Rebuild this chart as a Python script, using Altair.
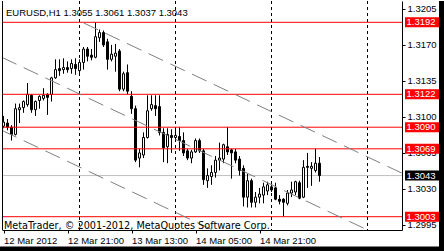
import altair as alt
import pandas as pd

symbol = "EURUSD"
timeframe = "H1"

opens  = [1.3091, 1.3094, 1.3090, 1.3083, 1.3107, 1.3109, 1.3112, 1.3121, 1.3107, 1.3116,
          1.3118, 1.3122, 1.3122, 1.3138, 1.3147, 1.3146, 1.3148, 1.3147, 1.3151, 1.3145,
          1.3153, 1.3166, 1.3160, 1.3158, 1.3177, 1.3182, 1.3173, 1.3156, 1.3159, 1.3164,
          1.3127, 1.3143, 1.3120, 1.3108, 1.3060, 1.3063, 1.3080, 1.3108, 1.3111, 1.3110,
          1.3085, 1.3071, 1.3082, 1.3080, 1.3081, 1.3077, 1.3067, 1.3060, 1.3066, 1.3077,
          1.3067, 1.3038, 1.3042, 1.3046, 1.3058, 1.3059, 1.3071, 1.3068, 1.3066, 1.3059,
          1.3050, 1.3022, 1.3038, 1.3017, 1.3022, 1.3024, 1.3028, 1.3032, 1.3031, 1.3020,
          1.3020, 1.3016, 1.3026, 1.3027, 1.3036, 1.3022, 1.3052, 1.3050, 1.3048, 1.3055]
highs  = [1.3101, 1.3098, 1.3092, 1.3113, 1.3113, 1.3116, 1.3133, 1.3122, 1.3116, 1.3121,
          1.3128, 1.3123, 1.3139, 1.3156, 1.3156, 1.3157, 1.3154, 1.3156, 1.3157, 1.3156,
          1.3168, 1.3168, 1.3166, 1.3192, 1.3185, 1.3184, 1.3176, 1.3170, 1.3171, 1.3166,
          1.3144, 1.3151, 1.3125, 1.3111, 1.3069, 1.3085, 1.3121, 1.3121, 1.3121, 1.3121,
          1.3089, 1.3089, 1.3088, 1.3090, 1.3090, 1.3085, 1.3069, 1.3068, 1.3079, 1.3079,
          1.3069, 1.3050, 1.3053, 1.3062, 1.3075, 1.3074, 1.3090, 1.3069, 1.3069, 1.3062,
          1.3053, 1.3045, 1.3040, 1.3027, 1.3031, 1.3036, 1.3037, 1.3036, 1.3036, 1.3024,
          1.3021, 1.3029, 1.3037, 1.3038, 1.3038, 1.3058, 1.3065, 1.3056, 1.3069, 1.3061]
lows   = [1.3089, 1.3087, 1.3077, 1.3082, 1.3094, 1.3104, 1.3110, 1.3104, 1.3101, 1.3108,
          1.3116, 1.3102, 1.3115, 1.3137, 1.3140, 1.3142, 1.3143, 1.3142, 1.3141, 1.3140,
          1.3146, 1.3154, 1.3155, 1.3157, 1.3173, 1.3168, 1.3146, 1.3154, 1.3144, 1.3125,
          1.3125, 1.3122, 1.3103, 1.3056, 1.3051, 1.3060, 1.3079, 1.3106, 1.3101, 1.3082,
          1.3056, 1.3055, 1.3065, 1.3077, 1.3067, 1.3062, 1.3058, 1.3055, 1.3065, 1.3065,
          1.3034, 1.3031, 1.3034, 1.3041, 1.3048, 1.3055, 1.3063, 1.3040, 1.3055, 1.3043,
          1.3013, 1.3012, 1.3012, 1.3012, 1.3016, 1.3016, 1.3024, 1.3027, 1.3019, 1.3015,
          1.3003, 1.3014, 1.3022, 1.3024, 1.3020, 1.3021, 1.3031, 1.3033, 1.3046, 1.3037]
closes = [1.3095, 1.3090, 1.3083, 1.3108, 1.3109, 1.3115, 1.3122, 1.3107, 1.3115, 1.3120,
          1.3121, 1.3119, 1.3138, 1.3146, 1.3145, 1.3148, 1.3146, 1.3152, 1.3147, 1.3153,
          1.3166, 1.3159, 1.3158, 1.3178, 1.3182, 1.3170, 1.3156, 1.3161, 1.3162, 1.3127,
          1.3142, 1.3125, 1.3108, 1.3058, 1.3065, 1.3080, 1.3106, 1.3112, 1.3108, 1.3085,
          1.3070, 1.3083, 1.3080, 1.3082, 1.3077, 1.3065, 1.3060, 1.3066, 1.3077, 1.3067,
          1.3039, 1.3043, 1.3046, 1.3058, 1.3060, 1.3073, 1.3066, 1.3065, 1.3058, 1.3048,
          1.3022, 1.3038, 1.3017, 1.3022, 1.3025, 1.3032, 1.3034, 1.3029, 1.3020, 1.3018,
          1.3017, 1.3026, 1.3029, 1.3037, 1.3021, 1.3051, 1.3051, 1.3052, 1.3055, 1.3043]

# time axis (bar index -> label)
tick_bars = [0, 16, 32, 48, 64]
tick_labels = ["12 Mar 2012", "12 Mar 21:00", "13 Mar 13:00", "14 Mar 05:00", "14 Mar 21:00"]
# day separators (bar index of 00:00)
sep_bars = [19, 43, 67, 91]
# price axis ticks
price_ticks = [1.2995, 1.3030, 1.3065, 1.3100, 1.3135, 1.3170, 1.3205]
# horizontal level lines
levels = [1.3192, 1.3122, 1.3090, 1.3069, 1.3003]
bid = 1.3043
# channel lines, (bar index, price) endpoints inside the visible window
channel_name = ["upper", "upper", "middle", "middle", "lower", "lower"]
channel_bar = [20, 99.625, -0.375, 91.0, -0.375, 52.3]
channel_price = [1.31914, 1.30453, 1.31579, 1.29901, 1.30869, 1.29901]

copyright_text = "MetaTrader, \u00a9 2001-2012, MetaQuotes Software Corp."

# whole drawing area (view) and the price window inside it
VW, VH = 442, 250
W, H = 400, 229
XS = alt.Scale(domain=[-0.375, 99.625], range=[0, W], nice=False, zero=False)
YS = alt.Scale(domain=[1.299007, 1.321271], range=[H, 0], nice=False, zero=False)

label_expr = ("[" + ",".join(f"'{s}'" for s in tick_labels) + "][indexof(["
              + ",".join(str(b) for b in tick_bars) + "], datum.value)]")

x_axis = alt.Axis(orient="bottom", offset=-(VH - H), values=tick_bars, labelExpr=label_expr,
                  title=None, grid=False, tickSize=3, tickColor="black", domainColor="black",
                  labelAlign="left", labelBaseline="top", labelPadding=2,
                  labelFont="Liberation Sans", labelFontSize=9.5, labelColor="black",
                  labelOverlap=False, labelBound=False, labelFlush=False)
y_axis = alt.Axis(orient="right", offset=-(VW - W), values=price_ticks, format=".4f",
                  title=None, grid=False, tickSize=3, tickColor="black", domainColor="black",
                  labelAlign="left", labelBaseline="middle", labelPadding=2,
                  labelFont="Liberation Sans", labelFontSize=9.5, labelColor="black",
                  labelOverlap=False, labelBound=False, labelFlush=False)


def X(field):
    return alt.X(field, scale=XS, axis=x_axis)


def Y(field):
    return alt.Y(field, scale=YS, axis=y_axis)


df = pd.DataFrame({"bar": list(range(len(opens))), "open": opens, "high": highs,
                   "low": lows, "close": closes})

one = pd.DataFrame({"a": [0]})

# window border (right and bottom dark bands)
frame_right = alt.Chart(one).mark_rect(color="black").encode(
    x=alt.value(437), x2=alt.value(VW), y=alt.value(0), y2=alt.value(VH))
frame_bottom = alt.Chart(one).mark_rect(color="black").encode(
    x=alt.value(-2), x2=alt.value(VW), y=alt.value(245.5), y2=alt.value(VH))

seps = alt.Chart(pd.DataFrame({"bar": sep_bars})).mark_rule(
    color="black", strokeWidth=1, strokeDash=[3, 3]
).encode(x=X("bar:Q"), y=alt.value(0), y2=alt.value(H))

bidline = alt.Chart(pd.DataFrame({"price": [bid]})).mark_rule(
    color="#c0c0c0", strokeWidth=1
).encode(y=Y("price:Q"), x=alt.value(0), x2=alt.value(W))

wicks = alt.Chart(df).mark_rule(color="black", strokeWidth=1).encode(
    x=X("bar:Q"), y=Y("low:Q"), y2="high:Q",
)

bodies = alt.Chart(df).transform_calculate(
    x1="datum.bar - 0.25", x2="datum.bar + 0.25",
    dir="datum.close >= datum.open ? 'up' : 'down'"
).mark_rect(stroke="black", strokeWidth=1).encode(
    x=X("x1:Q"), x2="x2:Q",
    y=Y("open:Q"), y2="close:Q",
    fill=alt.Fill("dir:N", scale=alt.Scale(domain=["up", "down"], range=["white", "black"]),
                  legend=None),
)

level_lines = alt.Chart(pd.DataFrame({"price": levels})).mark_rule(
    color="#ff0000", strokeWidth=1
).encode(y=Y("price:Q"), x=alt.value(0), x2=alt.value(W))

channel = alt.Chart(pd.DataFrame({"line": channel_name, "bar": channel_bar,
                                  "price": channel_price})).mark_line(
    color="#808080", strokeWidth=1, strokeDash=[16, 8]
).encode(x=X("bar:Q"), y=Y("price:Q"), detail="line:N")

title_str = f"{symbol},{timeframe} {opens[-1]:.4f} {highs[-1]:.4f} {lows[-1]:.4f} {closes[-1]:.4f}"
title = alt.Chart(pd.DataFrame({"t": [title_str]})).mark_text(
    align="left", baseline="alphabetic", font="Liberation Sans", fontSize=9.5, color="black"
).encode(x=alt.value(4), y=alt.value(15), text="t:N")

copy = alt.Chart(pd.DataFrame({"t": [copyright_text]})).mark_text(
    align="left", baseline="alphabetic", font="DejaVu Sans", fontSize=9.7, color="black"
).encode(x=alt.value(2), y=alt.value(228), text="t:N")

left_border = alt.Chart(one).mark_rule(color="black").encode(
    x=alt.value(0.5), y=alt.value(0), y2=alt.value(H))

box_df = pd.DataFrame({"price": levels + [bid],
                       "kind": ["level"] * len(levels) + ["bid"]})
box_df["label"] = [f"{p:.4f}" for p in box_df["price"]]

boxes = alt.Chart(box_df).mark_tick(orient="horizontal", size=34, thickness=10, opacity=1).encode(
    x=alt.value(420),
    y=Y("price:Q"),
    color=alt.Color("kind:N", scale=alt.Scale(domain=["level", "bid"], range=["#ff0000", "#000000"]),
                    legend=None),
)
box_text = alt.Chart(box_df).mark_text(
    align="left", baseline="middle", font="Liberation Sans", fontSize=9.5, color="white"
).encode(x=alt.value(404.5), y=Y("price:Q"), text="label:N")

chart = alt.layer(
    frame_right, frame_bottom,
    seps, bidline, wicks, bodies, level_lines, channel, title, copy, left_border,
    boxes, box_text
).properties(
    width=VW, height=VH,
    padding={"left": 2, "top": 1, "right": 0, "bottom": 0},
    autosize=alt.AutoSizeParams(type="none"),
    background="white",
).configure_view(stroke=None)

chart.save("out.html", embed_options={"renderer": "svg", "actions": False})
